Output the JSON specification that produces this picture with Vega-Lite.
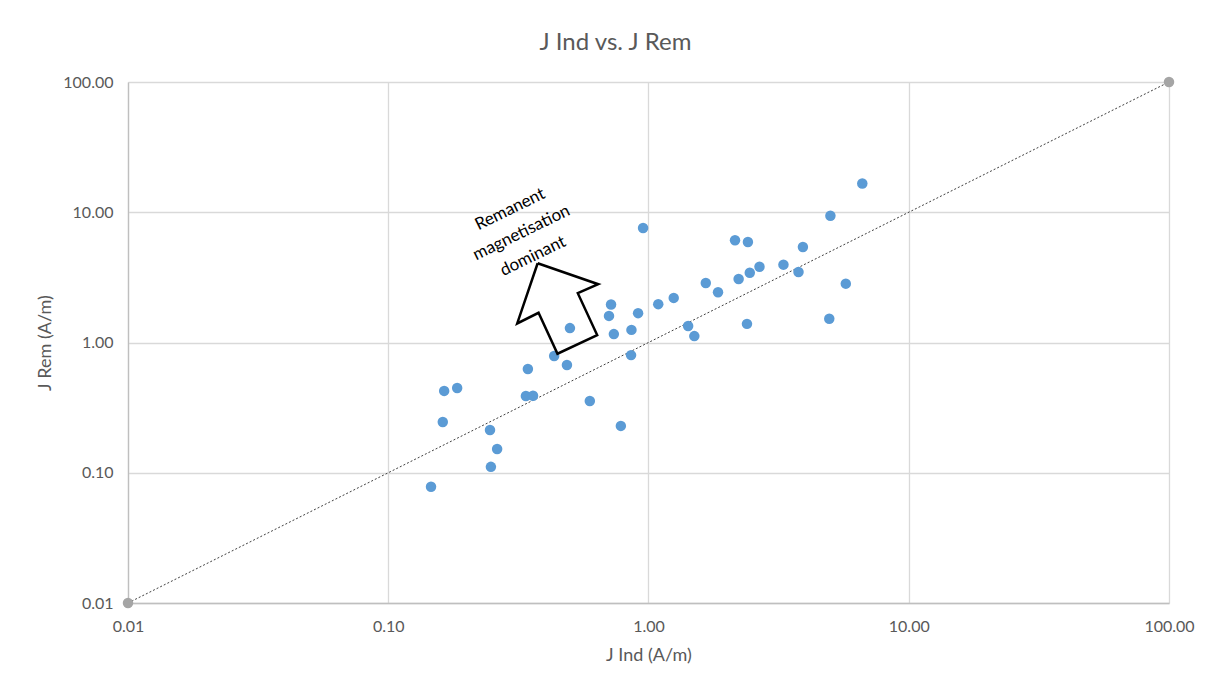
{
  "$schema": "https://vega.github.io/schema/vega-lite/v6.json",
  "width": 1041,
  "height": 521,
  "autosize": {"type": "none"},
  "padding": {"left": 128, "top": 82, "right": 41, "bottom": 83},
  "background": "white",
  "title": {
    "text": "J Ind vs. J Rem",
    "frame": "bounds",
    "anchor": "middle",
    "font": "Lato",
    "fontSize": 24,
    "fontWeight": "normal",
    "color": "#595959",
    "offset": 19
  },
  "config": {
    "view": {"stroke": null},
    "font": "Lato",
    "axis": {
      "labelFont": "Lato",
      "labelFontSize": 16,
      "labelColor": "#595959",
      "labelFlush": false,
      "titleFont": "Lato",
      "titleFontSize": 18,
      "titleFontWeight": "normal",
      "titleColor": "#595959",
      "gridColor": "#D9D9D9",
      "gridWidth": 1.3,
      "domainColor": "#BFBFBF",
      "domainWidth": 1.3,
      "ticks": false
    }
  },
  "datasets": {
    "measured": [
      {"jind": 0.146, "jrem": 0.078},
      {"jind": 0.162, "jrem": 0.245},
      {"jind": 0.164, "jrem": 0.425},
      {"jind": 0.184, "jrem": 0.448},
      {"jind": 0.246, "jrem": 0.213},
      {"jind": 0.248, "jrem": 0.111},
      {"jind": 0.262, "jrem": 0.152},
      {"jind": 0.338, "jrem": 0.388},
      {"jind": 0.36, "jrem": 0.39},
      {"jind": 0.344, "jrem": 0.626},
      {"jind": 0.434, "jrem": 0.787},
      {"jind": 0.486, "jrem": 0.671},
      {"jind": 0.499, "jrem": 1.29},
      {"jind": 0.595, "jrem": 0.356},
      {"jind": 0.783, "jrem": 0.229},
      {"jind": 0.705, "jrem": 1.60},
      {"jind": 0.718, "jrem": 1.96},
      {"jind": 0.736, "jrem": 1.16},
      {"jind": 0.857, "jrem": 0.80},
      {"jind": 0.86, "jrem": 1.25},
      {"jind": 0.912, "jrem": 1.68},
      {"jind": 0.953, "jrem": 7.57},
      {"jind": 1.09, "jrem": 1.97},
      {"jind": 1.25, "jrem": 2.2},
      {"jind": 1.42, "jrem": 1.34},
      {"jind": 1.50, "jrem": 1.12},
      {"jind": 1.66, "jrem": 2.86},
      {"jind": 1.85, "jrem": 2.43},
      {"jind": 2.15, "jrem": 6.09},
      {"jind": 2.41, "jrem": 5.91},
      {"jind": 2.22, "jrem": 3.07},
      {"jind": 2.45, "jrem": 3.43},
      {"jind": 2.67, "jrem": 3.82},
      {"jind": 2.39, "jrem": 1.39},
      {"jind": 3.30, "jrem": 3.96},
      {"jind": 3.92, "jrem": 5.41},
      {"jind": 3.77, "jrem": 3.48},
      {"jind": 5.0, "jrem": 9.41},
      {"jind": 5.73, "jrem": 2.83},
      {"jind": 4.95, "jrem": 1.52},
      {"jind": 6.63, "jrem": 16.6}
    ],
    "equal": [
      {"jind": 0.01, "jrem": 0.01},
      {"jind": 100, "jrem": 100}
    ],
    "arrow": [
      {"i": 0, "jind": 0.375, "jrem": 4.06},
      {"i": 1, "jind": 0.641, "jrem": 2.80},
      {"i": 2, "jind": 0.535, "jrem": 2.39},
      {"i": 3, "jind": 0.635, "jrem": 1.14},
      {"i": 4, "jind": 0.447, "jrem": 0.82},
      {"i": 5, "jind": 0.378, "jrem": 1.69},
      {"i": 6, "jind": 0.313, "jrem": 1.40},
      {"i": 7, "jind": 0.375, "jrem": 4.06}
    ],
    "note": [
      {"jind": 0.294, "jrem": 10.5, "label": ["Remanent", "magnetisation", "dominant"]}
    ]
  },
  "layer": [
    {
      "data": {"name": "equal"},
      "mark": {"type": "line", "color": "#404040", "strokeWidth": 1, "strokeDash": [2, 2]},
      "encoding": {
        "x": {
          "field": "jind", "type": "quantitative",
          "scale": {"type": "log", "domain": [0.01, 100], "nice": false},
          "axis": {"values": [0.01, 0.1, 1, 10, 100], "format": ".2f", "title": "J Ind (A/m)", "labelPadding": 15, "titlePadding": 12, "grid": true}
        },
        "y": {
          "field": "jrem", "type": "quantitative",
          "scale": {"type": "log", "domain": [0.01, 100], "nice": false},
          "axis": {"values": [0.01, 0.1, 1, 10, 100], "format": ".2f", "title": "J Rem (A/m)", "labelPadding": 15, "titlePadding": 8, "grid": true}
        }
      }
    },
    {
      "data": {"name": "equal"},
      "mark": {"type": "point", "filled": true, "opacity": 1, "size": 110, "color": "#A5A5A5", "clip": false},
      "encoding": {
        "x": {"field": "jind", "type": "quantitative"},
        "y": {"field": "jrem", "type": "quantitative"}
      }
    },
    {
      "data": {"name": "measured"},
      "mark": {"type": "point", "filled": true, "opacity": 1, "size": 110, "color": "#5B9BD5"},
      "encoding": {
        "x": {"field": "jind", "type": "quantitative"},
        "y": {"field": "jrem", "type": "quantitative"}
      }
    },
    {
      "data": {"name": "arrow"},
      "mark": {"type": "line", "color": "black", "strokeWidth": 2.5, "strokeJoin": "miter"},
      "encoding": {
        "x": {"field": "jind", "type": "quantitative"},
        "y": {"field": "jrem", "type": "quantitative"},
        "order": {"field": "i", "type": "quantitative"}
      }
    },
    {
      "data": {"name": "note"},
      "mark": {"type": "text", "font": "Lato", "fontSize": 17, "color": "black", "angle": 334, "align": "center", "baseline": "middle", "lineHeight": 26},
      "encoding": {
        "x": {"field": "jind", "type": "quantitative"},
        "y": {"field": "jrem", "type": "quantitative"},
        "text": {"field": "label"}
      }
    }
  ]
}
